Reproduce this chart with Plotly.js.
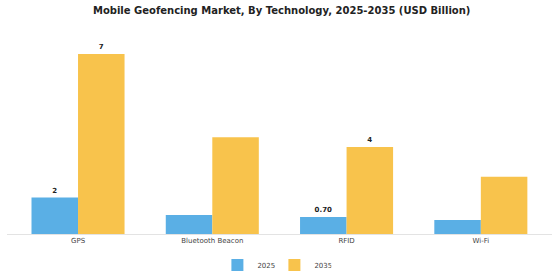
<!DOCTYPE html>
<html><head><meta charset="utf-8">
<script src="https://cdn.plot.ly/plotly-3.0.1.min.js"></script>
<style>html,body{margin:0;padding:0;background:#fff}#chart{width:560px;height:280px}</style>
</head><body><div id="chart"></div>
<script>
const categories = ["GPS", "Bluetooth Beacon", "RFID", "Wi-Fi"];
const values2025 = [1.5, 0.78, 0.7, 0.58];
const values2035 = [7.4, 3.98, 3.58, 2.35];
const labels2025 = ["2", "", "0.70", ""];
const labels2035 = ["7", "", "4", ""];
const seriesNames = ["2025", "2035"];

const textFont = {family: "DejaVu Sans, sans-serif", size: 7, color: "#222", weight: "bold"};
const traces = [
  {type: "bar", name: seriesNames[0], x: categories, y: values2025, text: labels2025,
   textposition: "outside", textfont: textFont, cliponaxis: false, hoverinfo: "none",
   marker: {color: "#5aafe5"}},
  {type: "bar", name: seriesNames[1], x: categories, y: values2035, text: labels2035,
   textposition: "outside", textfont: textFont, cliponaxis: false, hoverinfo: "none",
   marker: {color: "#f8c34c"}}
];
const layout = {
  width: 560, height: 280,
  margin: {l: 7, r: 8, t: 40, b: 46, autoexpand: false},
  paper_bgcolor: "#fff", plot_bgcolor: "#fff",
  title: {text: "Mobile Geofencing Market, By Technology, 2025-2035 (USD Billion)",
          font: {family: "DejaVu Sans, sans-serif", size: 10, color: "#222", weight: "bold"},
          x: 0.503, xanchor: "center", y: 0.962, yanchor: "middle"},
  barmode: "group", bargap: 0.307, bargroupgap: 0,
  xaxis: {range: [-0.529, 3.53], showline: true, linecolor: "#e3e3e3", linewidth: 1,
          ticks: "", showgrid: false, zeroline: false, automargin: false,
          tickfont: {family: "DejaVu Sans, sans-serif", size: 7, color: "#444"}},
  yaxis: {range: [0, 7.98], visible: false, showgrid: false, zeroline: false},
  showlegend: true,
  legend: {orientation: "h", x: 0.49, xanchor: "center", xref: "container",
           y: 0.054, yanchor: "middle", yref: "container",
           entrywidth: 12, entrywidthmode: "pixels", itemwidth: 30,
           font: {family: "DejaVu Sans, sans-serif", size: 7, color: "#444"}},
  font: {family: "DejaVu Sans, sans-serif"}
};
Plotly.newPlot("chart", traces, layout, {displayModeBar: false, staticPlot: true});
</script></body></html>
